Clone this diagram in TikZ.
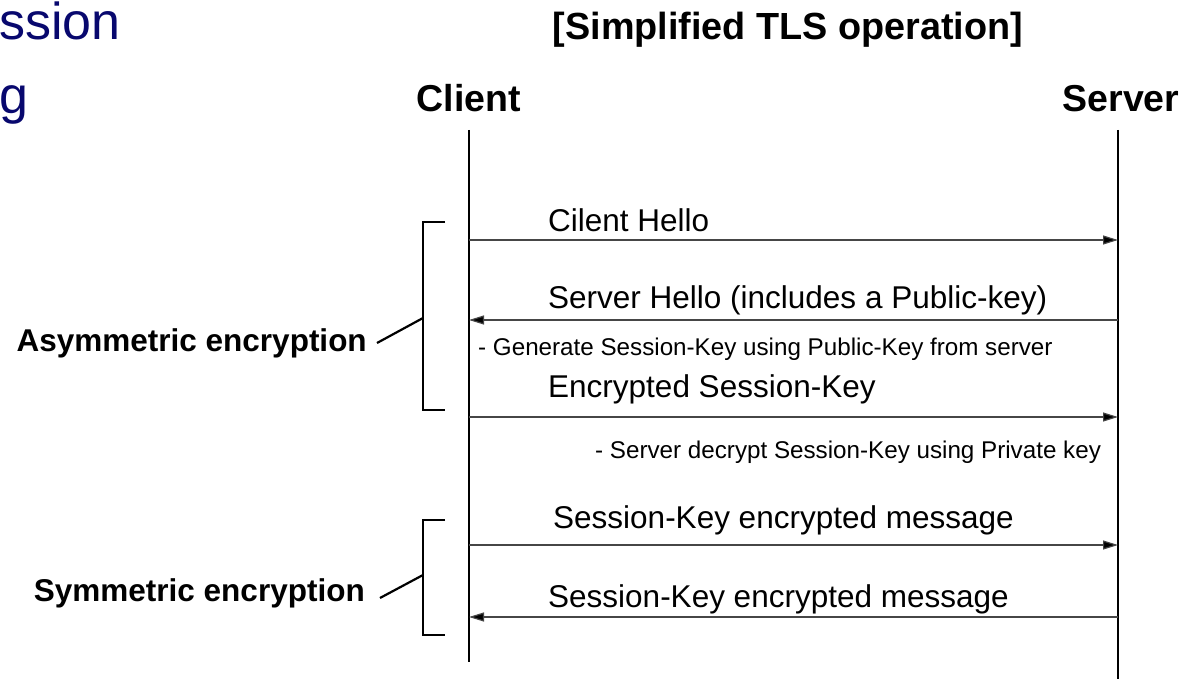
\documentclass[tikz,border=0pt]{standalone}
\usepackage{fontspec}
\setmainfont{Liberation Sans}
\usetikzlibrary{arrows.meta}
\definecolor{titlenavy}{RGB}{8,8,110}
\definecolor{msgline}{RGB}{70,70,70}
\tikzset{
  fs/.style={font=\fontsize{#1}{#1}\selectfont},
  bfs/.style={font=\fontsize{#1}{#1}\selectfont\bfseries},
  heading/.style={bfs=37.5, anchor=base, inner sep=0pt},
  lifeline/.style={line width=1.6pt, black},
  msg/.style={line width=1.2pt, msgline, -{Triangle[length=15pt,width=9pt,fill=black]}},
  msglabel/.style={fs=31.5, anchor=base west, inner sep=0pt},
  notelabel/.style={fs=24.2, anchor=base west, inner sep=0pt},
  phase/.style={bfs=31.5, anchor=base east, inner sep=0pt},
  bracket/.style={line width=2.6pt, black},
  leader/.style={line width=2.2pt, black},
}
\begin{document}
\begin{tikzpicture}[x=1pt,y=-1pt]
\useasboundingbox (0,0) rectangle (1194,679);

% slide title fragments
\node[fs=52, text=titlenavy, anchor=base west, inner sep=0pt] (tA) at (-1,40) {ssion};
\node[fs=52, text=titlenavy, anchor=base west, inner sep=0pt] (tB) at (-1,114) {g};

% headings
\node[bfs=37.8, anchor=base, inner sep=0pt] (title) at (788,40) {[Simplified TLS operation]};
\node[heading] (client) at (469,112) {Client};
\node[heading] (server) at (1121,112) {Server};

% lifelines
\coordinate (ctop) at (469,130);
\coordinate (cbot) at (469,662);
\coordinate (stop) at (1118,130);
\coordinate (sbot) at (1118,679);
\draw[lifeline] (ctop) -- (cbot);
\draw[lifeline] (stop) -- (sbot);

% message end points
\coordinate (c1) at (469,240);  \coordinate (s1) at (1118,240);
\coordinate (c2) at (469,320);  \coordinate (s2) at (1118,320);
\coordinate (c3) at (469,417);  \coordinate (s3) at (1118,417);
\coordinate (c4) at (469,545);  \coordinate (s4) at (1118,545);
\coordinate (c5) at (469,617);  \coordinate (s5) at (1118,617);

% messages
\draw[msg] (c1) -- (s1);
\draw[msg] (s2) -- (c2);
\draw[msg] (c3) -- (s3);
\draw[msg] (c4) -- (s4);
\draw[msg] (s5) -- (c5);

\node[msglabel] (m1) at (548,232) {Cilent Hello};
\node[msglabel] (m2) at (548,308) {Server Hello (includes a Public-key)};
\node[notelabel] (n1) at (478,355) {- Generate Session-Key using Public-Key from server};
\node[msglabel] (m3) at (548,397) {Encrypted Session-Key};
\node[notelabel] (n2) at (595,458) {- Server decrypt Session-Key using Private key};
\node[msglabel] (m4) at (553,528) {Session-Key encrypted message};
\node[msglabel] (m5) at (548,607) {Session-Key encrypted message};

% phase brackets
\coordinate (a1) at (445,222); \coordinate (a2) at (423,222);
\coordinate (a3) at (423,410); \coordinate (a4) at (445,410);
\draw[bracket] (a1) -- (a2) -- (a3) -- (a4);
\coordinate (b1) at (445,520); \coordinate (b2) at (423,520);
\coordinate (b3) at (423,635); \coordinate (b4) at (445,635);
\draw[bracket] (b1) -- (b2) -- (b3) -- (b4);

% phase labels and their leaders
\node[phase] (asym) at (367,351) {Asymmetric encryption};
\node[phase] (sym) at (365,601) {Symmetric encryption};
\coordinate (la) at (423,318);
\coordinate (la2) at (377,343);
\coordinate (lb) at (423,575);
\coordinate (lb2) at (380,598);
\draw[leader] (la) -- (la2);
\draw[leader] (lb) -- (lb2);
\end{tikzpicture}
\end{document}
